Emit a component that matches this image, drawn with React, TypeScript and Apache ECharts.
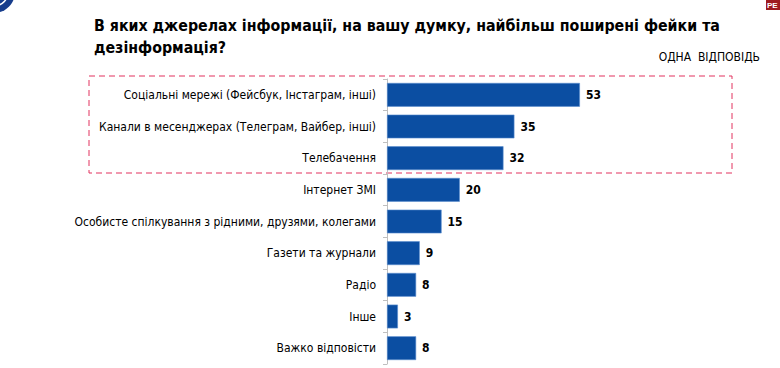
import React, { useEffect, useRef } from "react";
import * as echarts from "echarts";

const categories = [
  "Соціальні мережі (Фейсбук, Інстаграм, інші)",
  "Канали в месенджерах (Телеграм, Вайбер, інші)",
  "Телебачення",
  "Інтернет ЗМІ",
  "Особисте спілкування з рідними, друзями, колегами",
  "Газети та журнали",
  "Радіо",
  "Інше",
  "Важко відповісти",
];
const values = [53, 35, 32, 20, 15, 9, 8, 3, 8];
const titleLines = [
  "В яких джерелах інформації, на вашу думку, найбільш поширені фейки та",
  "дезінформація?",
];
const noteText = "ОДНА  ВІДПОВІДЬ";
const brandText = "РЕ";

const FONT = "'DejaVu Sans Condensed', 'DejaVu Sans', sans-serif";

export default function App() {
  const ref = useRef<HTMLDivElement>(null);
  useEffect(() => {
    if (!ref.current) return;
    const chart = echarts.init(ref.current, null, { renderer: "svg" });
    chart.setOption({
      animation: false,
      backgroundColor: "#ffffff",
      title: {
        text: titleLines.join("\n"),
        left: 89,
        top: 9,
        textStyle: {
          fontFamily: FONT,
          fontSize: 15.8,
          fontWeight: "bold",
          color: "#000000",
          lineHeight: 22,
        },
      },
      grid: { left: 387, top: 79, width: 364, height: 285 },
      xAxis: { type: "value", min: 0, max: 100, show: false },
      yAxis: {
        type: "category",
        data: categories,
        inverse: true,
        axisLine: { show: true, lineStyle: { color: "#bfbfbf", width: 1 } },
        axisTick: { show: true, length: 4, lineStyle: { color: "#bfbfbf" } },
        axisLabel: {
          color: "#000000",
          fontFamily: FONT,
          fontSize: 12,
          margin: 11,
        },
      },
      series: [
        {
          type: "bar",
          data: values,
          barCategoryGap: "25%",
          itemStyle: { color: "#0b4ea2", borderColor: "#5d8fd0", borderWidth: 0.6 },
          label: {
            show: true,
            position: "right",
            distance: 6,
            color: "#000000",
            fontFamily: FONT,
            fontWeight: "bold",
            fontSize: 12,
          },
        },
      ],
      graphic: [
        {
          type: "text",
          right: 20,
          top: 51,
          style: {
            text: noteText,
            fill: "#000000",
            font: "12px " + FONT,
          },
        },
        {
          type: "rect",
          shape: { x: 89, y: 76, width: 643, height: 97 },
          style: { fill: "none", stroke: "#e2335f", lineWidth: 1, lineDash: [6, 4] },
        },
        {
          type: "circle",
          shape: { cx: -6, cy: -8, r: 21 },
          style: { fill: "#173d8c" },
        },
        {
          type: "arc",
          shape: { cx: -6, cy: -8, r: 14, startAngle: 0, endAngle: Math.PI },
          style: { fill: "none", stroke: "#ffffff", lineWidth: 1.5 },
        },
        {
          type: "rect",
          shape: { x: 766, y: 0, width: 20, height: 10 },
          style: { fill: "#9e1b20" },
        },
        {
          type: "text",
          x: 767,
          y: 1,
          style: { text: brandText, fill: "#ffffff", font: "bold 8px 'Liberation Sans'" },
        },
      ],
    });
    return () => chart.dispose();
  }, []);
  return (
    <div
      ref={ref}
      style={{ position: "fixed", left: 0, top: 0, width: 780, height: 368 }}
    />
  );
}
